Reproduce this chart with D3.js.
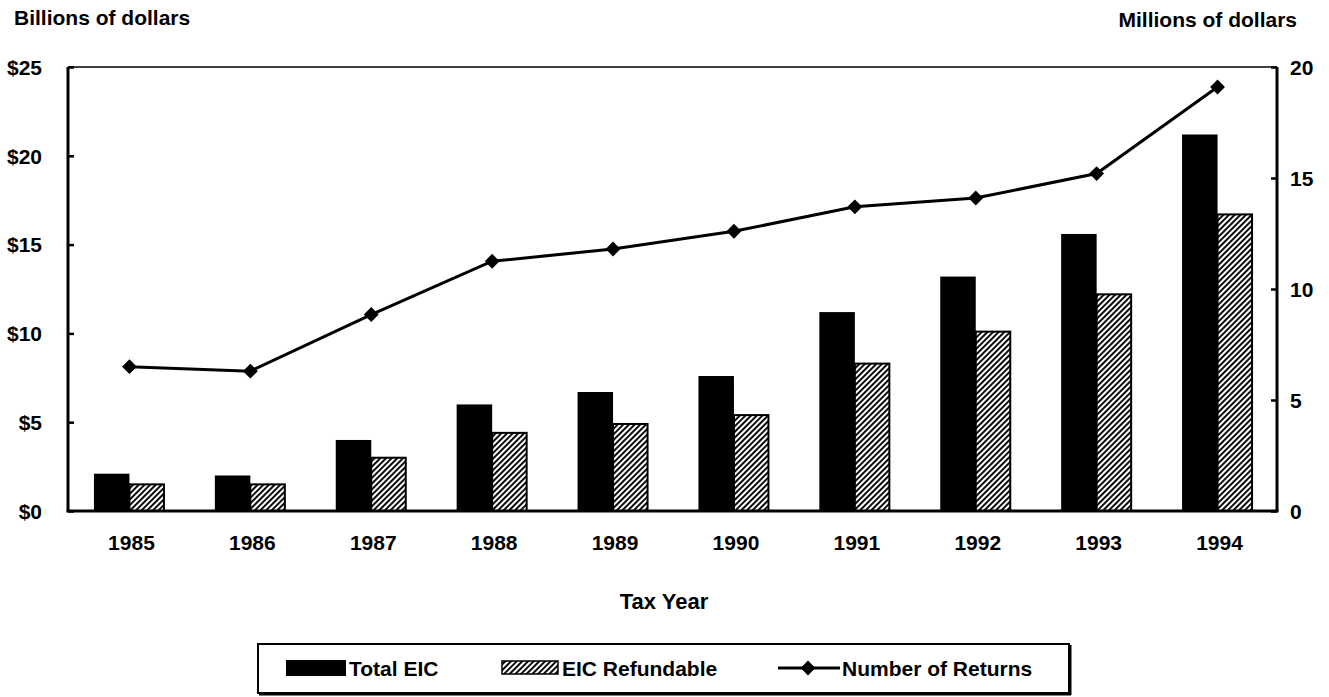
<!DOCTYPE html>
<html>
<head>
<meta charset="utf-8">
<script src="https://cdn.jsdelivr.net/npm/d3@7"></script>
<style>
  html, body { margin: 0; padding: 0; background: #fff; }
  svg { display: block; }
  text { font-family: "Liberation Sans", Arial, Helvetica, sans-serif; font-weight: bold; fill: #000; }
</style>
</head>
<body>
<svg id="chart" width="1329" height="697"></svg>
<script>
// ---- data ----
const years = ["1985","1986","1987","1988","1989","1990","1991","1992","1993","1994"];
const totalEIC = [2.1, 2.0, 4.0, 6.0, 6.7, 7.6, 11.2, 13.2, 15.6, 21.2];
const refundableEIC = [1.5, 1.5, 3.0, 4.4, 4.9, 5.4, 8.3, 10.1, 12.2, 16.7];
const numberOfReturns = [6.5, 6.3, 8.85, 11.25, 11.8, 12.6, 13.7, 14.1, 15.2, 19.1];
const leftTicks = [0, 5, 10, 15, 20, 25];
const rightTicks = [0, 5, 10, 15, 20];
const seriesNames = ["Total EIC", "EIC Refundable", "Number of Returns"];

// ---- layout ----
const svg = d3.select("#chart");
const L = 68, R = 1277, T = 67, B = 511;

const defs = svg.append("defs");
const pat = defs.append("pattern")
  .attr("id", "hatch").attr("patternUnits", "userSpaceOnUse")
  .attr("width", 4).attr("height", 4)
  .attr("patternTransform", "rotate(45)");
pat.append("rect").attr("width", 4).attr("height", 4).attr("fill", "#fff");
pat.append("rect").attr("x", 0).attr("width", 1.9).attr("height", 4).attr("fill", "#000");

const x = d3.scaleBand().domain(years).range([L, R]).padding(0);
const groupW = 71;
const x1 = d3.scaleBand().domain(["total", "refund"]).range([0, groupW]).padding(0);
const yL = d3.scaleLinear().domain([0, 25]).range([B, T]);
const yR = d3.scaleLinear().domain([0, 20]).range([B, T]);
const cx = yr => x(yr) + x.bandwidth() / 2 + 1;

// bars
const g = svg.append("g");
years.forEach((yr, i) => {
  const gx = cx(yr) - groupW / 2;
  g.append("rect")
    .attr("x", gx + x1("total")).attr("width", x1.bandwidth())
    .attr("y", yL(totalEIC[i])).attr("height", yL(0) - yL(totalEIC[i]))
    .attr("fill", "#000");
  g.append("rect")
    .attr("x", gx + x1("refund")).attr("width", x1.bandwidth() - 1)
    .attr("y", yL(refundableEIC[i])).attr("height", yL(0) - yL(refundableEIC[i]))
    .attr("fill", "url(#hatch)").attr("stroke", "#000").attr("stroke-width", 2);
});

// frame top
svg.append("line").attr("x1", L).attr("x2", R).attr("y1", T).attr("y2", T)
  .attr("stroke", "#000").attr("stroke-width", 1.5);

// axes
const axL = d3.axisLeft(yL).tickValues(leftTicks).tickSize(-6).tickFormat(d => "$" + d).tickPadding(26);
const gL = svg.append("g").attr("transform", `translate(${L},0)`).call(axL);
gL.select(".domain").attr("stroke-width", 3).attr("d", `M0,${T}V${B}`);
gL.selectAll(".tick line").attr("stroke-width", 2.5);
gL.selectAll(".tick text").style("font-size", "21px").attr("dy", "0.35em");

const axR = d3.axisRight(yR).tickValues(rightTicks).tickSize(-6).tickPadding(13);
const gR = svg.append("g").attr("transform", `translate(${R},0)`).call(axR);
gR.select(".domain").attr("stroke-width", 3).attr("d", `M0,${T}V${B}`);
gR.selectAll(".tick line").attr("stroke-width", 2.5);
gR.selectAll(".tick text").style("font-size", "21px").attr("dy", "0.35em");

const axB = d3.axisBottom(x).tickSize(0).tickPadding(24);
const gB = svg.append("g").attr("transform", `translate(0,${B})`).call(axB);
gB.select(".domain").attr("stroke-width", 3).attr("d", `M${L - 1.5},0H${R + 1.5}`);
gB.selectAll(".tick text").style("font-size", "21px").attr("dx", "3");

// line
const lineGen = d3.line().x((d, i) => cx(years[i])).y(d => yR(d));
svg.append("path").datum(numberOfReturns).attr("d", lineGen)
  .attr("fill", "none").attr("stroke", "#000").attr("stroke-width", 3);
const diamond = d3.symbol().type(d3.symbolSquare).size(110);
svg.selectAll(".mk").data(numberOfReturns).enter().append("path")
  .attr("d", diamond)
  .attr("transform", (d, i) => `translate(${cx(years[i])},${yR(d)}) rotate(45)`)
  .attr("fill", "#000");

// titles
svg.append("text").attr("x", 14).attr("y", 25).style("font-size", "21px").text("Billions of dollars");
svg.append("text").attr("x", 1297).attr("y", 27).attr("text-anchor", "end").style("font-size", "21px").text("Millions of dollars");
svg.append("text").attr("x", 664).attr("y", 609).attr("text-anchor", "middle").style("font-size", "22px").text("Tax Year");

// legend
const lg = svg.append("g");
lg.append("rect").attr("x", 258).attr("y", 644).attr("width", 811).attr("height", 49)
  .attr("fill", "#fff").attr("stroke", "#000").attr("stroke-width", 2);
lg.append("line").attr("x1", 1070).attr("x2", 1070).attr("y1", 645).attr("y2", 695).attr("stroke", "#000").attr("stroke-width", 3);
lg.append("line").attr("x1", 259).attr("x2", 1071).attr("y1", 694).attr("y2", 694).attr("stroke", "#000").attr("stroke-width", 3);
const ly = 668;
lg.append("rect").attr("x", 286).attr("y", ly - 8).attr("width", 60).attr("height", 16).attr("fill", "#000");
lg.append("text").attr("x", 349).attr("y", ly).attr("dy", "0.36em").style("font-size", "21px").text(seriesNames[0]);
lg.append("rect").attr("x", 502).attr("y", ly - 7).attr("width", 56).attr("height", 13)
  .attr("fill", "url(#hatch)").attr("stroke", "#000").attr("stroke-width", 1.5);
lg.append("text").attr("x", 562).attr("y", ly).attr("dy", "0.36em").style("font-size", "21px").text(seriesNames[1]);
lg.append("line").attr("x1", 778).attr("x2", 840).attr("y1", ly).attr("y2", ly).attr("stroke", "#000").attr("stroke-width", 3);
lg.append("path").attr("d", diamond).attr("transform", `translate(808,${ly}) rotate(45)`).attr("fill", "#000");
lg.append("text").attr("x", 842).attr("y", ly).attr("dy", "0.36em").style("font-size", "21px").text(seriesNames[2]);
</script>
</body>
</html>
